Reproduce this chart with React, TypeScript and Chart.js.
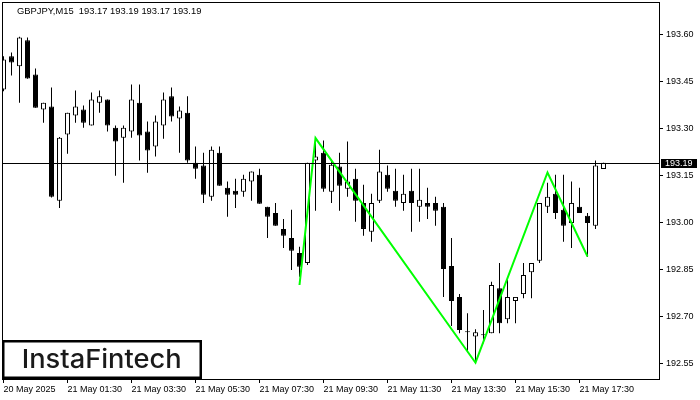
import React, { useEffect, useRef } from "react";
import { Chart, registerables } from "chart.js";

Chart.register(...registerables);

const symbolTitle = "GBPJPY,M15  193.17 193.19 193.17 193.19";

const opens = [
  193.424, 193.53, 193.498, 193.581, 193.472, 193.36, 193.37, 193.069, 193.28, 193.341,
  193.36, 193.309, 193.382, 193.392, 193.302, 193.27, 193.29, 193.382, 193.29, 193.242,
  193.309, 193.402, 193.331, 193.35, 193.19, 193.181, 193.082, 193.222, 193.11, 193.101,
  193.098, 193.13, 193.152, 193.05, 193.03, 192.979, 192.95, 192.902, 192.87, 193.197,
  193.222, 193.098, 193.178, 193.107, 193.139, 193.062, 192.97, 193.069, 193.152, 193.101,
  193.062, 193.101, 193.05, 193.062, 193.062, 193.05, 192.861, 192.762, 192.649, 192.636,
  192.64, 192.646, 192.79, 192.691, 192.749, 192.771, 192.841, 192.877, 193.05, 193.091,
  193.04, 192.998, 193.05, 193.021, 192.989, 193.17,
];
const highs = [
  193.53, 193.542, 193.592, 193.59, 193.491, 193.382, 193.43, 193.272, 193.35, 193.421,
  193.373, 193.414, 193.421, 193.392, 193.309, 193.309, 193.44, 193.44, 193.322, 193.341,
  193.414, 193.43, 193.37, 193.402, 193.242, 193.222, 193.242, 193.242, 193.13, 193.139,
  193.152, 193.162, 193.171, 193.05, 193.062, 193.011, 193.04, 192.922, 193.19, 193.261,
  193.261, 193.2, 193.222, 193.258, 193.171, 193.12, 193.091, 193.232, 193.181, 193.171,
  193.152, 193.171, 193.171, 193.11, 193.082, 193.062, 192.95, 192.771, 192.71, 192.659,
  192.72, 192.81, 192.87, 192.816, 192.762, 192.87, 192.87, 193.062, 193.126, 193.152,
  193.152, 193.13, 193.11, 193.03, 193.197, 193.19,
];
const lows = [
  193.418, 193.469, 193.382, 193.458, 193.366, 193.318, 193.079, 193.046, 193.219, 193.318,
  193.302, 193.309, 193.35, 193.29, 193.149, 193.126, 193.27, 193.197, 193.158, 193.21,
  193.267, 193.322, 193.222, 193.19, 193.139, 193.062, 193.069, 193.117, 193.018, 193.046,
  193.082, 193.069, 193.059, 192.95, 192.989, 192.918, 192.848, 192.826, 192.864, 193.037,
  193.098, 193.062, 193.037, 193.082, 193.002, 192.957, 192.938, 193.062, 193.098, 193.05,
  193.037, 192.97, 193.002, 193.011, 192.989, 192.762, 192.669, 192.646, 192.585, 192.55,
  192.614, 192.646, 192.646, 192.678, 192.678, 192.758, 192.758, 192.87, 193.03, 193.011,
  192.938, 192.918, 193.03, 192.89, 192.979, 193.17,
];
const closes = [
  193.52, 193.51, 193.59, 193.459, 193.366, 193.382, 193.082, 193.27, 193.35, 193.37,
  193.318, 193.392, 193.402, 193.309, 193.258, 193.302, 193.392, 193.277, 193.229, 193.322,
  193.392, 193.338, 193.357, 193.197, 193.171, 193.088, 193.232, 193.117, 193.088, 193.088,
  193.139, 193.162, 193.059, 193.018, 192.989, 192.957, 192.909, 192.858, 193.19, 193.21,
  193.107, 193.184, 193.117, 193.13, 193.069, 192.979, 193.062, 193.162, 193.107, 193.069,
  193.091, 193.062, 193.072, 193.05, 193.037, 192.851, 192.749, 192.656, 192.649, 192.649,
  192.64, 192.8, 192.678, 192.762, 192.762, 192.832, 192.87, 193.062, 193.082, 193.03,
  192.989, 193.062, 193.03, 192.998, 193.181, 193.19,
];

const timeLabels = [
  "20 May 2025",
  "21 May 01:30",
  "21 May 03:30",
  "21 May 05:30",
  "21 May 07:30",
  "21 May 09:30",
  "21 May 11:30",
  "21 May 13:30",
  "21 May 15:30",
  "21 May 17:30",
];
const timeLabelIndex = [0, 8, 16, 24, 32, 40, 48, 56, 64, 72];
const priceTicks = [192.55, 192.7, 192.85, 193.0, 193.15, 193.3, 193.45, 193.6];

const patternIndex = [37, 39, 59, 68, 73];
const patternPrice = [192.8, 193.269, 192.552, 193.159, 192.891];

const lastPrice = 193.19;
const brand = "InstaFintech";

const FONT = "Liberation Sans";

export default function App() {
  const ref = useRef<HTMLCanvasElement | null>(null);

  useEffect(() => {
    const canvas = ref.current;
    if (!canvas) return;
    const idx = opens.map((_, i) => i);

    const overlay = {
      id: "overlay",
      afterDatasetsDraw(chart: any) {
        const { ctx, chartArea, scales } = chart;
        const y = Math.round(scales.y.getPixelForValue(lastPrice));
        ctx.save();
        ctx.fillStyle = "#000";
        ctx.fillRect(chartArea.left, y, chartArea.right - chartArea.left, 1);
        ctx.restore();
      },
      afterDraw(chart: any) {
        const { ctx, chartArea, scales } = chart;
        ctx.save();
        // frame top & left
        ctx.fillStyle = "#000";
        ctx.fillRect(2, 2, chartArea.right - 2 + 1, 1);
        ctx.fillRect(2, 2, 1, chartArea.bottom - 2);
        // title
        ctx.font = `9.4px "${FONT}"`;
        ctx.fillStyle = "#000";
        ctx.textAlign = "left";
        ctx.textBaseline = "alphabetic";
        ctx.fillText(symbolTitle, 17, 14);
        // last price box
        const y = Math.round(scales.y.getPixelForValue(lastPrice));
        ctx.font = `9px "${FONT}"`;
        ctx.fillStyle = "#000";
        ctx.fillRect(661, y - 4, 36, 9);
        ctx.fillStyle = "#fff";
        ctx.textBaseline = "middle";
        ctx.fillText(lastPrice.toFixed(2), 665, y + 1);
        // brand box
        ctx.fillStyle = "#fff";
        ctx.fillRect(3, 341, 198, 37);
        ctx.strokeStyle = "#000";
        ctx.lineWidth = 2.5;
        ctx.strokeRect(3.25, 341.25, 197.5, 36.5);
        ctx.fillStyle = "#1a1a1a";
        ctx.font = `500 26px "Inter"`;
        ctx.textAlign = "center";
        ctx.textBaseline = "alphabetic";
        const w = ctx.measureText(brand).width;
        const sx = 160 / w;
        ctx.translate(101.7, 368.3);
        ctx.scale(sx, 1);
        ctx.fillText(brand, 0, 0);
        ctx.restore();
      },
    };

    const chart = new Chart(canvas, {
      type: "bar",
      data: {
        datasets: [
          {
            type: "line",
            data: patternIndex.map((x, k) => ({ x, y: patternPrice[k] })),
            borderColor: "#00ff00",
            borderWidth: 2,
            pointRadius: 0,
            tension: 0,
            fill: false,
            order: 0,
          } as any,
          {
            type: "bar",
            data: idx.map((i) => ({ x: i, y: [opens[i], closes[i]] })),
            backgroundColor: idx.map((i) => (closes[i] > opens[i] ? "#ffffff" : "#000000")),
            borderColor: "#000",
            borderWidth: 1,
            borderSkipped: false,
            barThickness: 5,
            minBarLength: 1,
            grouped: false,
            inflateAmount: 0,
            order: 1,
          } as any,
          {
            type: "bar",
            data: idx.map((i) => ({ x: i, y: [lows[i], highs[i]] })),
            backgroundColor: "#000",
            borderWidth: 0,
            barThickness: 1,
            grouped: false,
            inflateAmount: 0,
            order: 2,
          } as any,
        ],
      },
      options: {
        animation: false,
        responsive: false,
        layout: { padding: { left: 2, top: 3, right: 0, bottom: 0 } },
        plugins: {
          legend: { display: false },
          tooltip: { enabled: false },
          title: { display: false },
        },
        scales: {
          x: {
            type: "linear",
            min: -0.1875,
            max: 81.9375,
            offset: false,
            grid: {
              display: true,
              drawOnChartArea: false,
              drawTicks: true,
              tickLength: 4,
              color: "#000",
              offset: false,
            },
            border: { display: true, color: "#000", width: 1 },
            ticks: {
              align: "start",
              autoSkip: false,
              maxRotation: 0,
              minRotation: 0,
              padding: 1,
              color: "#000",
              font: { family: FONT, size: 9 },
              callback: (v: any) => {
                const k = timeLabelIndex.indexOf(Number(v));
                return k >= 0 ? timeLabels[k] : "";
              },
            },
            afterBuildTicks: (axis: any) => {
              axis.ticks = timeLabelIndex.map((v) => ({ value: v }));
            },
            afterFit: (axis: any) => {
              axis.height = 21;
              axis.paddingLeft = 0;
              axis.paddingRight = 0;
            },
          } as any,
          y: {
            type: "linear",
            position: "right",
            min: 192.5,
            max: 193.7,
            grid: {
              display: true,
              drawOnChartArea: false,
              drawTicks: true,
              tickLength: 4,
              color: "#000",
            },
            border: { display: true, color: "#000", width: 1 },
            ticks: {
              padding: 3,
              color: "#000",
              font: { family: FONT, size: 9 },
              callback: (v: any) => Number(v).toFixed(2),
            },
            afterBuildTicks: (axis: any) => {
              axis.ticks = priceTicks.map((v) => ({ value: v }));
            },
            afterFit: (axis: any) => {
              axis.width = 41;
              axis.paddingTop = 0;
              axis.paddingBottom = 0;
            },
          } as any,
        },
      },
      plugins: [overlay],
    });

    return () => chart.destroy();
  }, []);

  return (
    <div style={{ position: "fixed", left: 0, top: 0, width: 700, height: 400, background: "#fff" }}>
      <canvas ref={ref} width={700} height={400} style={{ display: "block", width: 700, height: 400 }} />
    </div>
  );
}
